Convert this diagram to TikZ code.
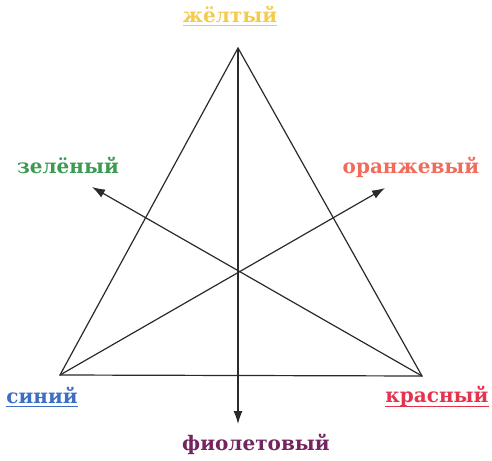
\documentclass[tikz,border=0pt]{standalone}
\usepackage{fontspec}
\setmainfont{DejaVu Serif}
\usetikzlibrary{arrows.meta}
\definecolor{cyel}{HTML}{F3CB4E}
\definecolor{cgrn}{HTML}{3D9A52}
\definecolor{corg}{HTML}{F06B5A}
\definecolor{cblu}{HTML}{3C6EC2}
\definecolor{cred}{HTML}{E5334E}
\definecolor{cvio}{HTML}{74245E}
\definecolor{cline}{HTML}{2A2A2A}
\tikzset{
  lbl/.style={font=\fontsize{20}{22}\selectfont\bfseries, inner sep=0pt, anchor=base},
  edge/.style={draw=cline, line width=1.2pt},
  arr/.style={edge, -{Latex[length=13pt,width=9pt]}},
  uline/.style={line width=1pt}
}
\begin{document}
\begin{tikzpicture}[x=1pt,y=-1pt]
\useasboundingbox (0,0) rectangle (492,460);
\coordinate (Y) at (238,48);
\coordinate (B) at (60,375);
\coordinate (R) at (422,376);
\coordinate (G) at (92,187);
\coordinate (O) at (385,188);
\coordinate (V) at (238,424);
\draw[edge, line join=miter] (Y) -- (B) -- (R) -- cycle;
\draw[arr] (Y) -- (V);
\draw[arr] (B) -- (O);
\draw[arr] (R) -- (G);
\node[lbl, text=cyel] (ly) at (230,23) {жёлтый};
\node[lbl, text=cgrn] (lg) at (68,173) {зелёный};
\node[lbl, text=corg] (lo) at (411,173) {оранжевый};
\node[lbl, text=cblu] (lb) at (42,403) {синий};
\node[lbl, text=cred] (lr) at (437,402) {красный};
\node[lbl, text=cvio] (lv) at (256,450) {фиолетовый};
\draw[uline, cyel] ([yshift=-3pt]ly.base west) -- ([yshift=-3pt]ly.base east);
\draw[uline, cblu] ([yshift=-3pt]lb.base west) -- ([yshift=-3pt]lb.base east);
\draw[uline, cred] ([yshift=-4pt]lr.base west) -- ([yshift=-4pt]lr.base east);
\end{tikzpicture}
\end{document}
